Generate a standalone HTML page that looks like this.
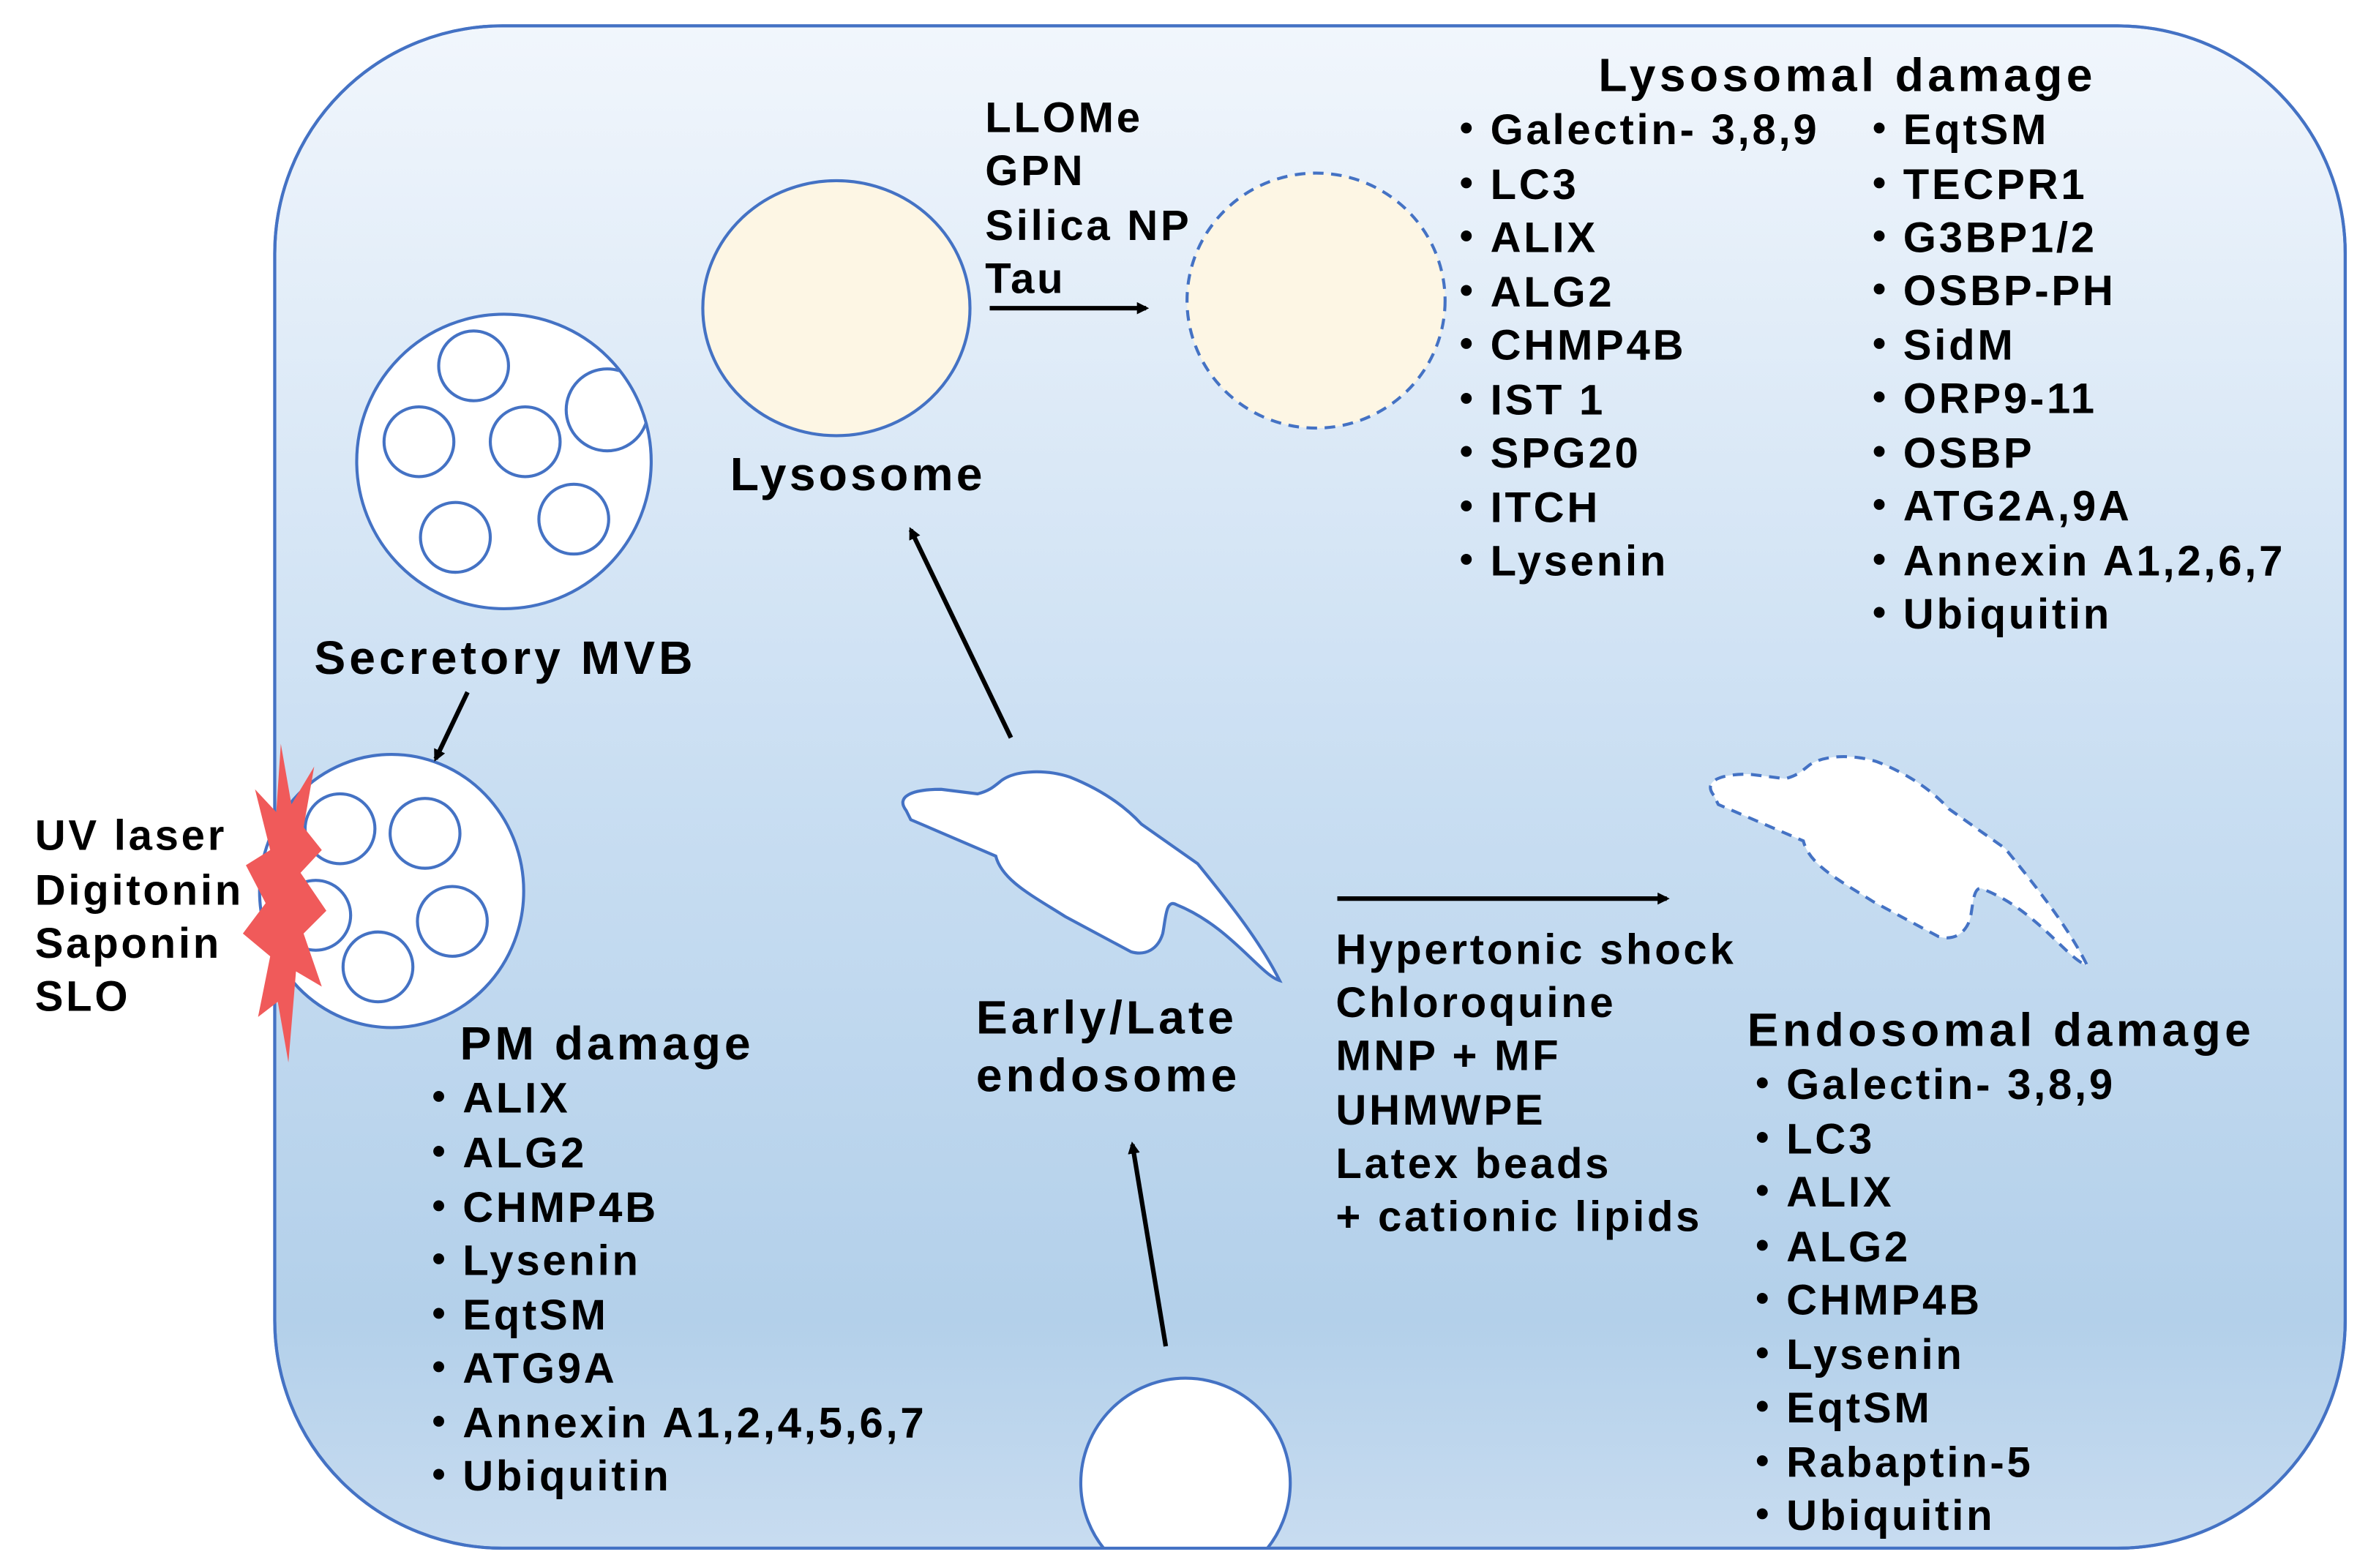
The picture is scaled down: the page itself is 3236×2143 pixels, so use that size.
<!DOCTYPE html>
<html><head><meta charset="utf-8"><style>html,body{margin:0;padding:0;background:#fff}svg{display:block}text{font-family:"Liberation Sans","Noto Sans CJK JP",sans-serif;font-weight:bold;fill:#000}</style></head><body>
<svg width="3236" height="2143" viewBox="0 0 1560 1033" xmlns="http://www.w3.org/2000/svg">
<defs>
<linearGradient id="bg" x1="0" y1="0" x2="0" y2="1">
<stop offset="0" stop-color="#f1f6fc"/><stop offset="0.5" stop-color="#c9def2"/><stop offset="0.85" stop-color="#b3d0ea"/><stop offset="1" stop-color="#c8dcf0"/></linearGradient>
<clipPath id="cell"><rect x="181" y="17" width="1364" height="1003" rx="150"/></clipPath>
<clipPath id="mvb"><circle cx="332" cy="304" r="96"/></clipPath>
<marker id="ah" markerWidth="8" markerHeight="8" refX="6" refY="4" orient="auto" markerUnits="userSpaceOnUse"><path d="M0,0 L8,4 L0,8 Z" fill="#000"/></marker>
</defs>
<rect x="181" y="17" width="1364" height="1003" rx="150" fill="url(#bg)" stroke="#4472c4" stroke-width="2"/>
<g stroke="#4472c4" stroke-width="2">
<ellipse cx="551" cy="203" rx="88" ry="84" fill="#fdf6e4"/>
<ellipse cx="867" cy="198" rx="85" ry="84" fill="#fdf6e4" stroke-dasharray="7,5"/>
<circle cx="332" cy="304" r="97" fill="#fff"/>
<g fill="#fff"><circle cx="312" cy="241" r="23"/><circle cx="276" cy="291" r="23"/><circle cx="346" cy="291" r="23"/><circle cx="300" cy="354" r="23"/><circle cx="378" cy="342" r="23"/></g>
<circle cx="400" cy="270" r="27" fill="#fff" clip-path="url(#mvb)"/>
<ellipse cx="258" cy="587" rx="87" ry="90" fill="#fff"/>
<g fill="#fff"><circle cx="224" cy="546" r="23"/><circle cx="280" cy="549" r="23"/><circle cx="208" cy="603" r="23"/><circle cx="298" cy="607" r="23"/><circle cx="249" cy="637" r="23"/></g>
<path d="M597 534 C590 525,600 520,620 520 L644 523 C652 521,655 518,660 514 C670 507,690 507,705 512 C725 520,740 530,752 543 L789 569 C810 595,830 620,843 646 C830 642,810 610,775 596 C768 592,768 605,766 615 C763 625,755 630,745 627 L702 604 C680 590,660 580,656 564 L600 540 Z" fill="#fff"/>
<path d="M597 534 C590 525,600 520,620 520 L644 523 C652 521,655 518,660 514 C670 507,690 507,705 512 C725 520,740 530,752 543 L789 569 C810 595,830 620,843 646 C830 642,810 610,775 596 C768 592,768 605,766 615 C763 625,755 630,745 627 L702 604 C680 590,660 580,656 564 L600 540 Z" fill="#fff" stroke-dasharray="7,5" transform="translate(532,-10)"/>
<circle cx="781" cy="977" r="69" fill="#fff" clip-path="url(#cell)"/>
</g>
<rect x="181" y="17" width="1364" height="1003" rx="150" fill="none" stroke="#4472c4" stroke-width="2"/>
<polygon fill="#f05a5a" points="185,490 192,530 207,505 200,545 212,560 198,575 215,600 200,615 212,650 195,640 190,700 183,660 170,670 178,630 160,615 175,595 162,570 178,560 168,520 182,535"/>
<g stroke="#000" stroke-width="3" marker-end="url(#ah)" fill="none">
<line x1="652" y1="203" x2="755" y2="203"/>
<line x1="308" y1="456" x2="287" y2="500"/>
<line x1="666" y1="486" x2="600" y2="349"/>
<line x1="881" y1="592" x2="1098" y2="592"/>
<line x1="768" y1="887" x2="746" y2="754"/>
</g>
<g font-size="28" letter-spacing="1.8">
<text x="1053" y="60" font-size="31" letter-spacing="2.6">Lysosomal damage</text>
<text x="952" y="95">・Galectin- 3,8,9</text><text x="952" y="131">・LC3</text><text x="952" y="166">・ALIX</text><text x="952" y="202">・ALG2</text><text x="952" y="237">・CHMP4B</text><text x="952" y="273">・IST 1</text><text x="952" y="308">・SPG20</text><text x="952" y="344">・ITCH</text><text x="952" y="379">・Lysenin</text>
<text x="1224" y="95">・EqtSM</text><text x="1224" y="131">・TECPR1</text><text x="1224" y="166">・G3BP1/2</text><text x="1224" y="201">・OSBP-PH</text><text x="1224" y="237">・SidM</text><text x="1224" y="272">・ORP9-11</text><text x="1224" y="308">・OSBP</text><text x="1224" y="343">・ATG2A,9A</text><text x="1224" y="379">・Annexin A1,2,6,7</text><text x="1224" y="414">・Ubiquitin</text>
<text x="649" y="87">LLOMe</text><text x="649" y="122">GPN</text><text x="649" y="158">Silica NP</text><text x="649" y="193">Tau</text>
<text x="481" y="323" font-size="31" letter-spacing="2">Lysosome</text>
<text x="207" y="444" font-size="31" letter-spacing="2.4">Secretory MVB</text>
<text x="23" y="560">UV laser</text><text x="23" y="596">Digitonin</text><text x="23" y="631">Saponin</text><text x="23" y="666">SLO</text>
<text x="303" y="698" font-size="31" letter-spacing="2.4">PM damage</text>
<text x="275" y="733">・ALIX</text><text x="275" y="769">・ALG2</text><text x="275" y="805">・CHMP4B</text><text x="275" y="840">・Lysenin</text><text x="275" y="876">・EqtSM</text><text x="275" y="911">・ATG9A</text><text x="275" y="947">・Annexin A1,2,4,5,6,7</text><text x="275" y="982">・Ubiquitin</text>
<text x="643" y="681" font-size="31" letter-spacing="2.4">Early/Late</text><text x="643" y="719" font-size="31" letter-spacing="2.4">endosome</text>
<text x="880" y="635">Hypertonic shock</text><text x="880" y="670">Chloroquine</text><text x="880" y="705">MNP + MF</text><text x="880" y="741">UHMWPE</text><text x="880" y="776">Latex beads</text><text x="880" y="811">+ cationic lipids</text>
<text x="1151" y="689" font-size="31" letter-spacing="2.6">Endosomal damage</text>
<text x="1147" y="724">・Galectin- 3,8,9</text><text x="1147" y="760">・LC3</text><text x="1147" y="795">・ALIX</text><text x="1147" y="831">・ALG2</text><text x="1147" y="866">・CHMP4B</text><text x="1147" y="902">・Lysenin</text><text x="1147" y="937">・EqtSM</text><text x="1147" y="973">・Rabaptin-5</text><text x="1147" y="1008">・Ubiquitin</text>
</g>
</svg>
</body></html>
